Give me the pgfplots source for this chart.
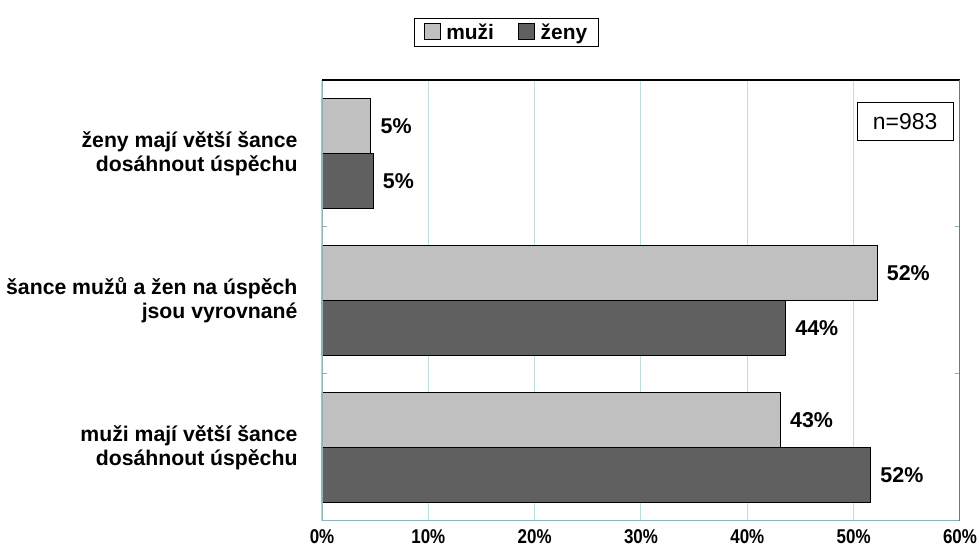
\documentclass[border=0pt]{standalone}
\usepackage{fontspec}
\setmainfont{Liberation Sans}
\usepackage{graphicx}
\usepackage{pgfplots}
\pgfplotsset{compat=1.18}

\definecolor{menc}{HTML}{C0C0C0}
\definecolor{womenc}{HTML}{606060}
\definecolor{gridc}{HTML}{BFDFDF}
\definecolor{axisc}{HTML}{8CB4B4}
\definecolor{rightc}{HTML}{707A7A}

\begin{document}
\begin{tikzpicture}
\path[use as bounding box] (-322bp,-28bp) rectangle (655bp,521bp);
\begin{axis}[
  scale only axis,
  width=638bp, height=441bp,
  xbar,
  xmin=0, xmax=60,
  ymin=-0.5, ymax=2.5,
  bar width=0.374,
  xtick={0,10,...,60},
  xticklabel={\scalebox{0.85}[1]{\pgfmathprintnumber{\tick}\%}},
  /pgf/number format/assume math mode=true,
  xticklabel style={font=\bfseries\fontsize{20}{22}\selectfont, yshift=-5bp},
  ytick={0,1,2},
  yticklabels={{muži mají větší šance\\dosáhnout úspěchu},
               {šance mužů a žen na úspěch\\jsou vyrovnané},
               {ženy mají větší šance\\dosáhnout úspěchu}},
  yticklabel style={align=right, font=\bfseries\fontsize{21.3}{24}\selectfont, xshift=-21bp},
  major tick length=0pt,
  minor ytick={0.5,1.5},
  minor tick length=5bp,
  minor tick style={axisc, line width=1bp},
  tick align=inside,
  xmajorgrids,
  major grid style={gridc, line width=1bp},
  axis line style={draw=none},
  nodes near coords={\pgfmathprintnumber[fixed,precision=0]{\pgfplotspointmeta}\%},
  nodes near coords style={font=\bfseries\fontsize{21.5}{24}\selectfont, anchor=west, xshift=6bp, black},
  point meta=explicit,
  legend columns=2,
  legend style={at={(0.289,1.108)}, anchor=center, draw=black, line width=1.3bp,
    font=\bfseries\fontsize{21}{24}\selectfont,
    inner xsep=9bp, inner ysep=3.5bp,
    /tikz/every odd column/.append style={column sep=4bp},
    /tikz/every even column/.append style={column sep=22bp}},
  legend image code/.code={\draw[#1,draw=black,line width=0.8bp] (-1bp,-7.5bp) rectangle (15bp,8.5bp);},
]
% muži (upper bar of each pair)
\addplot[fill=menc, draw=black, line width=1bp, bar shift=0.187]
  coordinates {(43.1,0) [43] (52.2,1) [52] (4.6,2) [5]};
% ženy (lower bar of each pair)
\addplot[fill=womenc, draw=black, line width=1bp, bar shift=-0.187]
  coordinates {(51.6,0) [52] (43.6,1) [44] (4.8,2) [5]};
\legend{muži, ženy}

% frame of the plot area
\draw[axisc, line width=1.5bp] (rel axis cs:0,0) -- (rel axis cs:0,1);
\draw[axisc, line width=1.5bp] (rel axis cs:0,0) -- (rel axis cs:1,0);
\draw[black, line width=1.3bp] (rel axis cs:0,1) -- (rel axis cs:1,1);
\draw[rightc, line width=1.3bp] (rel axis cs:1,0) -- (rel axis cs:1,1);

% sample size box
\node[draw=black, fill=white, line width=1bp, minimum width=96bp, minimum height=38bp,
      font=\fontsize{23}{26}\selectfont, inner sep=0pt]
  at (rel axis cs:0.914,0.905) {n=983};
\end{axis}
\end{tikzpicture}
\end{document}
